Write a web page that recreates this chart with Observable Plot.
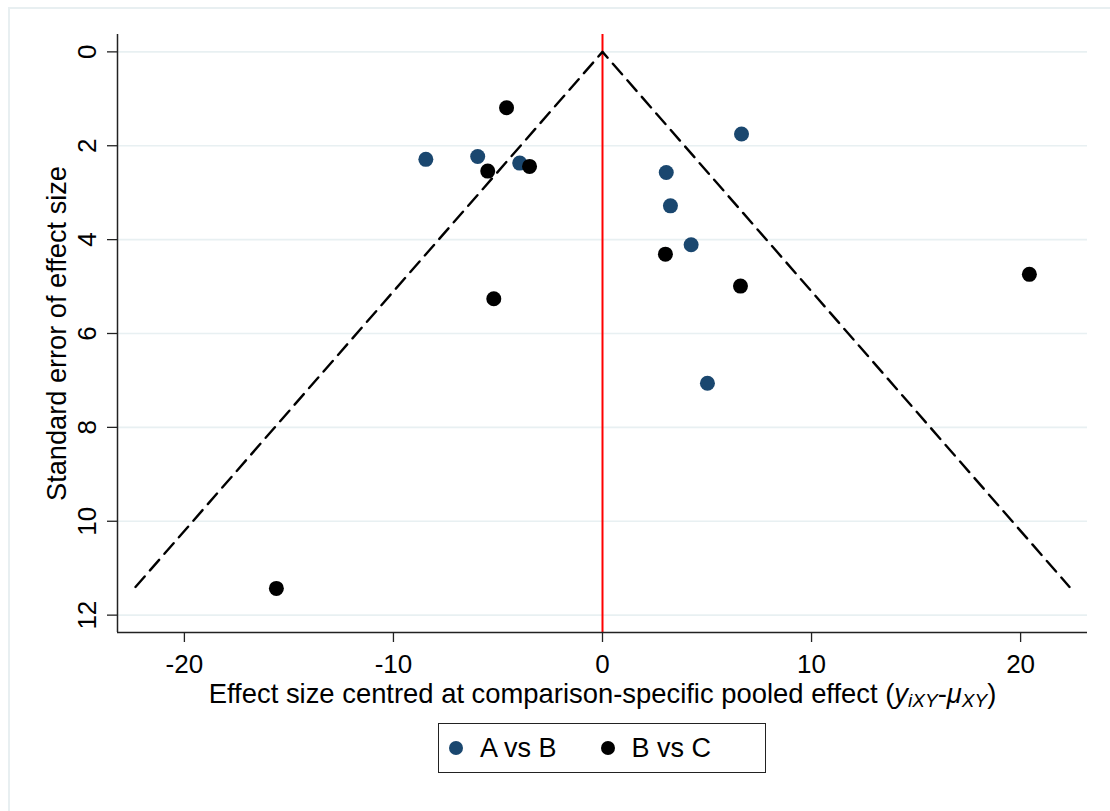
<!DOCTYPE html>
<html>
<head>
<meta charset="utf-8">
<script src="https://cdn.jsdelivr.net/npm/d3@7"></script>
<script src="https://cdn.jsdelivr.net/npm/@observablehq/plot@0.6"></script>
<style>
  html, body { margin: 0; padding: 0; background: #fff; overflow: hidden; }
  body { width: 1110px; height: 811px; position: relative; font-family: "Liberation Sans", Arial, sans-serif; }
  #frame { position: absolute; left: 8px; top: 7px; width: 1120px; height: 820px; border-left: 2px solid #e8eff1; border-top: 2px solid #e8eff1; }
  #chart { position: absolute; left: 0; top: 0; }
  #chart g[aria-label*="tick label"], #chart g[aria-label*="tick label"] text { font-size: 26px !important; }
  #legend { position: absolute; left: 438px; top: 723px; width: 326px; height: 48px; border: 1.6px solid #222; box-sizing: content-box; display: flex; align-items: center; font-size: 27px; color: #000; }
  #legend .item { display: flex; align-items: center; }
  #legend .sw { width: 14px; height: 14px; border-radius: 50%; display: inline-block; }
  #legend .lab { margin-left: 17px; }
</style>
</head>
<body>
<div id="frame"></div>
<div id="chart"></div>
<div id="legend"></div>
<script>
// ---- data ----
const groups = ["A vs B", "B vs C"];
const colors = ["#1a476f", "#000000"];

const abEffect = [-8.45, -5.97, -3.96, 3.05, 3.25, 4.24, 6.65, 5.02];
const abSE     = [ 2.29,  2.23,  2.37, 2.57, 3.28, 4.11, 1.75, 7.06];

const bcEffect = [-4.59, -5.49, -3.49, -5.20, 3.01, 6.60, 20.42, -15.60];
const bcSE     = [ 1.19,  2.54,  2.44,  5.26, 4.31, 4.99,  4.74,  11.43];

const funnelX = [-22.34, 0, 22.34];
const funnelY = [11.4, 0, 11.4];

const xTicks = [-20, -10, 0, 10, 20];
const yTicks = [0, 2, 4, 6, 8, 10, 12];
const xDomain = [-23.2, 23.2];
const yDomain = [-0.37, 12.37];

const xTitle = "Effect size centred at comparison-specific pooled effect (yiXY-\u03bcXY)";
const yTitle = "Standard error of effect size";

// ---- build tables ----
const points = [
  ...abEffect.map((e, i) => ({effect: e, se: abSE[i], group: groups[0]})),
  ...bcEffect.map((e, i) => ({effect: e, se: bcSE[i], group: groups[1]}))
];
const funnel = funnelX.map((x, i) => ({x, y: funnelY[i]}));

const chart = Plot.plot({
  width: 1110,
  height: 720,
  marginLeft: 117,
  marginRight: 23,
  marginTop: 34,
  marginBottom: 88,
  style: {fontFamily: "'Liberation Sans', Arial, sans-serif", fontSize: "26px", color: "#000", background: "transparent", overflow: "visible"},
  x: {domain: xDomain, label: null},
  y: {domain: yDomain, reverse: true, label: null},
  color: {domain: groups, range: colors},
  marks: [
    Plot.ruleY(yTicks, {stroke: "#e8f0f2", strokeWidth: 1.6}),
    Plot.ruleX([0], {stroke: "#ff0000", strokeWidth: 2}),
    Plot.line(funnel, {x: "x", y: "y", stroke: "#000", strokeWidth: 2.4, strokeDasharray: "14 8"}),
    Plot.dot(points, {x: "effect", y: "se", fill: "group", r: 7.5, stroke: null}),
    Plot.ruleX([xDomain[0]], {stroke: "#222", strokeWidth: 1.5}),
    Plot.ruleY([yDomain[1]], {stroke: "#222", strokeWidth: 1.5}),
    Plot.axisX({ticks: xTicks, tickFormat: d => `${d}`, tickSize: 10, tickPadding: 12, fontSize: 26, label: null, stroke: "#222", strokeWidth: 1.3}),
    Plot.axisY({ticks: yTicks, tickFormat: d => `${d}`, tickSize: 10, tickPadding: 12, tickRotate: -90, fontSize: 26, label: null, stroke: "#222", strokeWidth: 1.3}),
    Plot.text([xTitle], {text: d => d, frameAnchor: "bottom", textAnchor: "middle", lineAnchor: "middle", dy: 62, fontSize: 27.4}),
    Plot.text([yTitle], {text: d => d, frameAnchor: "left", textAnchor: "middle", lineAnchor: "middle", dx: -60, rotate: -90, fontSize: 27.2})
  ]
});
document.getElementById("chart").appendChild(chart);

// rich x-axis title with italic subscripts
d3.select(chart).selectAll("text").each(function() {
  if (this.textContent === xTitle) {
    const t = d3.select(this);
    t.text(null);
    t.append("tspan").text("Effect size centred at comparison-specific pooled effect (");
    t.append("tspan").attr("font-style", "italic").text("y");
    t.append("tspan").attr("font-style", "italic").attr("font-size", 19).attr("dy", 4).text("iXY");
    t.append("tspan").attr("dy", -4).text("-");
    t.append("tspan").attr("font-style", "italic").text("\u03bc");
    t.append("tspan").attr("font-style", "italic").attr("font-size", 19).attr("dy", 4).text("XY");
    t.append("tspan").attr("dy", -4).text(")");
  }
});

// legend
const legend = d3.select("#legend");
groups.forEach((g, i) => {
  const item = legend.append("div").attr("class", "item")
    .style("margin-left", i === 0 ? "10px" : "44px");
  item.append("span").attr("class", "sw").style("background", colors[i]);
  item.append("span").attr("class", "lab").text(g);
});
</script>
</body>
</html>
